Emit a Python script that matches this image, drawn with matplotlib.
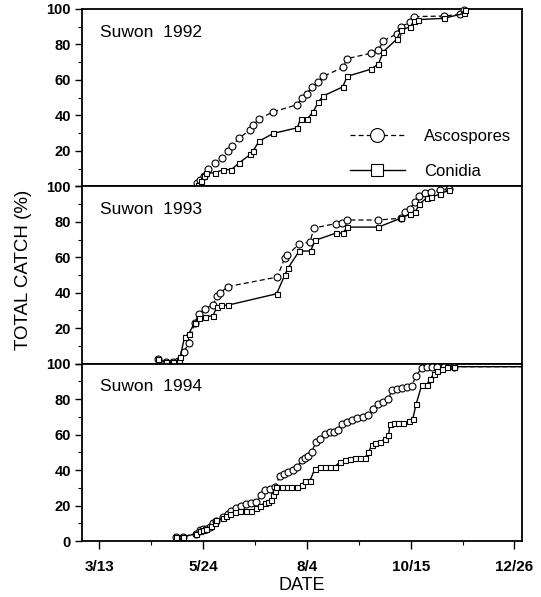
import matplotlib
matplotlib.use("Agg")
import matplotlib.pyplot as plt
from matplotlib.lines import Line2D
from matplotlib.ticker import MultipleLocator

plt.rcParams['font.family'] = ['Liberation Sans', 'DejaVu Sans']

# ---- data: x = day of year, y = cumulative catch (%) ----
asco_92_day = [139.9, 141.6, 144.3, 147.4, 152.0, 157.3, 161.3, 164.3, 168.7, 176.8, 178.7, 182.8,
               192.6, 209.3, 212.3, 215.8, 219.7, 223.9, 227.4, 240.8, 244.0, 260.3, 265.6, 269.1,
               278.4, 281.2, 287.7, 290.4, 310.8, 322.4, 325.2]
asco_92_val = [2, 3.4, 6, 10, 13, 16, 20, 23, 27, 32, 34.5, 38, 42, 46, 50, 52, 56, 59, 62, 67, 72,
               75, 77, 82, 86, 90, 92.5, 95.7, 96, 97, 99.5]
con_92_day = [140.4, 142.7, 144.3, 146.2, 152.0, 157.8, 163.6, 168.7, 176.8, 178.7, 182.8, 192.6,
              209.3, 211.6, 216.2, 220.4, 223.9, 227.4, 240.8, 244.0, 260.3, 265.6, 269.1, 278.4,
              281.2, 287.7, 290.4, 293.4, 310.8, 325.2, 325.9]
con_92_val = [1, 3, 6, 7.5, 7.5, 9.4, 9.4, 13, 18, 20, 25.4, 29.8, 33, 38, 38, 42, 47.6, 51, 56, 62,
              66, 69, 76, 83, 88, 90, 93.4, 94, 94.7, 97.5, 99.5]

asco_93_day = [112.6, 118.4, 123.0, 126.5, 130.4, 134.1, 138.1, 141.1, 145.0, 150.8, 153.6, 156.0,
               161.3, 195.4, 200.7, 202.3, 210.7, 218.1, 220.9, 236.2, 240.1, 243.6, 265.6, 281.2,
               284.2, 287.2, 291.1, 294.1, 298.1, 302.0, 308.5, 314.3]
asco_93_val = [2.6, 0.7, 0.7, 1.7, 6.4, 11.5, 23, 28, 31, 33, 38, 40, 43.5, 48.8, 59.7, 61, 67.6,
               68.5, 76.5, 79, 79.3, 81, 81, 82, 85.5, 87.4, 91, 94.4, 96, 96.8, 97.7, 98.7]
con_93_day = [112.6, 118.4, 123.0, 127.0, 128.1, 131.1, 134.1, 138.1, 141.1, 145.0, 150.8, 153.6,
              156.3, 161.3, 195.0, 200.7, 203.0, 210.7, 218.6, 221.6, 236.2, 240.8, 244.0, 265.6,
              281.2, 287.2, 291.1, 294.1, 299.3, 302.0, 308.5, 314.3]
con_93_val = [2.6, 0.7, 0.7, 2, 3.6, 15, 17, 23, 26, 26.5, 27, 32, 33, 33, 39.4, 50, 54, 63.5, 63.5,
              69.5, 73.6, 73.6, 77, 77, 82, 84.5, 85.5, 90, 93.6, 94, 95.5, 98]

asco_94_day = [125.3, 130.0, 139.2, 141.6, 143.9, 146.2, 148.5, 150.8, 153.2, 157.8, 161.3, 163.6,
               166.6, 170.6, 174.0, 177.5, 181.0, 184.5, 186.8, 190.3, 193.7, 197.2, 200.0, 203.0,
               206.5, 209.3, 212.3, 214.6, 216.9, 219.2, 222.3, 225.0, 228.5, 232.0, 234.8, 237.8,
               240.1, 243.6, 247.1, 250.6, 255.2, 258.7, 262.1, 265.6, 269.1, 272.6, 274.9, 278.4,
               281.9, 285.3, 288.8, 291.8, 295.8, 299.2, 302.7, 306.2, 310.8, 317.8, 365.0]
asco_94_val = [2.5, 2.5, 4, 6, 6.5, 7, 8, 10, 11.4, 13.7, 15.5, 17, 18.7, 19.7, 20.8, 21.5, 22,
               25.8, 28.7, 29.6, 30.5, 36.5, 37.6, 39, 40.3, 41.8, 45.5, 47, 47.8, 50, 55.8, 57.7,
               60.5, 61.4, 61.4, 62.4, 66, 67, 68, 69.5, 69.8, 70.8, 74.5, 77, 78.3, 80, 85.2, 85.8,
               86.3, 87, 87.6, 93.3, 97.6, 98, 98, 98, 98, 98.3, 98.3]
con_94_day = [125.3, 130.0, 139.2, 141.6, 143.9, 146.2, 149.7, 152.0, 153.2, 157.8, 160.1, 162.4,
              165.9, 169.4, 174.0, 177.5, 181.0, 183.3, 186.8, 189.1, 191.4, 192.6, 193.7, 194.9,
              198.4, 201.9, 205.3, 208.8, 212.3, 214.6, 218.1, 221.6, 225.0, 228.5, 232.0, 235.5,
              239.0, 242.4, 245.9, 249.4, 252.9, 256.3, 258.7, 261.0, 263.3, 266.8, 270.3, 272.6,
              273.7, 276.1, 279.5, 283.0, 286.5, 289.5, 291.8, 295.8, 299.2, 301.6, 303.9, 306.2,
              309.7, 313.2, 317.8, 365.0]
con_94_val = [2.5, 2.5, 4, 5.5, 6, 7, 8.5, 10, 11.8, 12.7, 14, 15.5, 16.5, 16.9, 16.9, 16.9, 18.4,
              19.7, 21.5, 22, 23, 26, 28, 30.5, 30.5, 30.5, 30.5, 30.5, 31.5, 34, 34, 40.8, 42, 42,
              42, 42, 44.6, 45.5, 46, 46.8, 47, 47, 50, 54, 55, 55.8, 57.7, 59.5, 66, 66.5, 66.5,
              66.5, 67.4, 69, 77.3, 88.2, 88.2, 91.4, 94.2, 96, 97, 98, 98.3, 98.3]

panel_titles = ["Suwon  1992", "Suwon  1993", "Suwon  1994"]
x_ticks = [72, 144, 216, 288, 360]
x_ticklabels = ["3/13", "5/24", "8/4", "10/15", "12/26"]
y_ticks = [0, 20, 40, 60, 80, 100]

series = [
    (asco_92_day, asco_92_val, con_92_day, con_92_val),
    (asco_93_day, asco_93_val, con_93_day, con_93_val),
    (asco_94_day, asco_94_val, con_94_day, con_94_val),
]

fig = plt.figure(figsize=(5.41, 5.97), dpi=100)
gs = fig.add_gridspec(3, 1, left=0.1516, right=0.9643, top=0.985, bottom=0.0938, hspace=0)
axes = [fig.add_subplot(gs[i]) for i in range(3)]

for i, (ax, (ad, av, cd, cv)) in enumerate(zip(axes, series)):
    na = len(ad) - 1 if ad[-1] >= 365 else len(ad)
    nc = len(cd) - 1 if cd[-1] >= 365 else len(cd)
    ax.plot(ad, av, color='black', lw=0.9, ls=(0, (4, 2.5)), marker='o', ms=5,
            mfc='white', mec='black', mew=0.8, markevery=list(range(na)), clip_on=False, zorder=3)
    ax.plot(cd, cv, color='black', lw=1.0, ls='-', marker='s', ms=3.6,
            mfc='white', mec='black', mew=0.8, markevery=list(range(nc)), clip_on=False, zorder=4)
    ax.set_xlim(60, 365)
    ax.set_ylim(0, 100)
    ax.set_yticks(y_ticks)
    ax.yaxis.set_minor_locator(MultipleLocator(10))
    if i < 2:
        ax.set_yticklabels([''] + [str(t) for t in y_ticks[1:]])
        ax.tick_params(axis='x', which='both', bottom=False, labelbottom=False)
    else:
        ax.set_yticklabels([str(t) for t in y_ticks])
        ax.set_xticks(x_ticks)
        ax.set_xticklabels(x_ticklabels)
        ax.xaxis.set_minor_locator(MultipleLocator(36))
    ax.tick_params(axis='y', which='major', direction='out', length=5, width=1,
                   labelsize=10.5, pad=3)
    ax.tick_params(axis='x', which='major', direction='out', length=6, width=1,
                   labelsize=11, pad=8)
    ax.tick_params(axis='both', which='minor', direction='out', length=3, width=0.8)
    for lab in ax.get_xticklabels() + ax.get_yticklabels():
        lab.set_fontweight('bold')
    for sp in ax.spines.values():
        sp.set_linewidth(1.3)
    ax.text(0.04, 0.87, panel_titles[i], transform=ax.transAxes, fontsize=12.5,
            ha='left', va='center')

handles = [
    Line2D([], [], color='black', lw=0.9, ls=(0, (4, 2.5)), marker='o', ms=10,
           mfc='white', mec='black', mew=0.8),
    Line2D([], [], color='black', lw=1.0, ls='-', marker='s', ms=8,
           mfc='white', mec='black', mew=0.8),
]
axes[0].legend(handles, ["Ascospores", "Conidia"], loc='center left',
               bbox_to_anchor=(0.609, 0.184), frameon=False, fontsize=12,
               handlelength=3.3, labelspacing=1.2, handletextpad=1.15,
               borderpad=0, borderaxespad=0)

axes[2].set_xlabel("DATE", fontsize=13, labelpad=2)
fig.text(0.044, 0.548, "TOTAL CATCH (%)", rotation=90, fontsize=13.5, ha='center', va='center')

fig.savefig("out.png", dpi=100)
